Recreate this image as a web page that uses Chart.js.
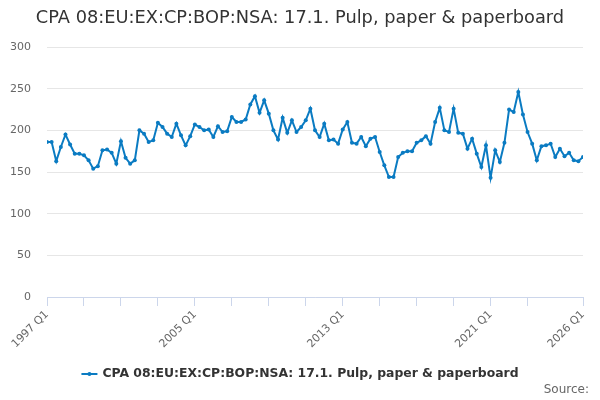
<!DOCTYPE html>
<html>
<head>
<meta charset="utf-8">
<script src="https://cdn.jsdelivr.net/npm/chart.js@4"></script>
<style>
  html, body { margin: 0; padding: 0; background: #fff; }
  #wrap { width: 600px; height: 400px; }
</style>
</head>
<body>
<div id="wrap"><canvas id="chart"></canvas></div>
<script>
// Dados trimestrais 1997 Q1 .. 2026 Q1
const firstYear = 1997;
const quarterLabels = [];
for (let y = firstYear; y <= 2026; y++) {
    for (let q = 1; q <= 4; q++) {
        if (y === 2026 && q > 1) break;
        quarterLabels.push(y + ' Q' + q);
    }
}

const seriesName = 'CPA 08:EU:EX:CP:BOP:NSA: 17.1. Pulp, paper & paperboard';

const seriesValues = [
    186, 186, 163, 180, 195, 183, 172, 172, 170, 164,
    154, 157, 176, 177, 173, 160, 187, 167, 160, 164,
    200, 196, 186, 188, 209, 204, 196, 192, 208, 194,
    182, 193, 207, 204, 200, 201, 192, 205, 198, 199,
    216, 210, 210, 213, 231, 241, 221, 236, 220, 200,
    189, 215, 197, 212, 198, 204, 212, 226, 200, 192,
    208, 188, 189, 184, 201, 210, 185, 184, 192, 181,
    190, 192, 174, 158, 144, 144, 168, 173, 175, 175,
    185, 188, 193, 184, 210, 227, 200, 198, 226, 197,
    196, 178, 190, 172, 156, 182, 143, 176, 162, 185,
    225, 222, 246, 219, 198, 184, 164, 181, 182, 184,
    168, 178, 169, 173, 164, 163, 168
];

// Rótulos visíveis no eixo x (índices dos trimestres)
const labelledTicks = [0, 32, 64, 96, 116];
const tickMarks = [0, 8, 16, 24, 32, 40, 48, 56, 64, 72, 80, 88, 96, 104, 116];
const yTicks = [0, 50, 100, 150, 200, 250, 300];

const lineColor = '#0a7bc2';
const fontFamily = '"DejaVu Sans", sans-serif';

const points = seriesValues.map((v, i) => ({ x: i, y: v }));

// Título, legenda e "Source:" desenhados à mão, centrados na largura total
const textPlugin = {
    id: 'chartTexts',
    afterDraw(chart) {
        const ctx = chart.ctx;
        ctx.save();
        ctx.textBaseline = 'middle';

        // título
        ctx.font = '17.8px ' + fontFamily;
        ctx.fillStyle = '#333333';
        ctx.textAlign = 'center';
        ctx.fillText(seriesName, 300, 18);

        // legenda
        ctx.font = 'bold 12.4px ' + fontFamily;
        const textW = ctx.measureText(seriesName).width;
        const symW = 16, gap = 5;
        const startX = 300 - (symW + gap + textW) / 2;
        const ly = 374;
        ctx.strokeStyle = lineColor;
        ctx.lineWidth = 2;
        ctx.beginPath();
        ctx.moveTo(startX, ly);
        ctx.lineTo(startX + symW, ly);
        ctx.stroke();
        ctx.fillStyle = lineColor;
        ctx.beginPath();
        ctx.arc(startX + symW / 2, ly, 2, 0, Math.PI * 2);
        ctx.fill();
        ctx.fillStyle = '#333333';
        ctx.textAlign = 'left';
        ctx.fillText(seriesName, startX + symW + gap, ly);

        // fonte
        ctx.font = '12px ' + fontFamily;
        ctx.fillStyle = '#666666';
        ctx.textAlign = 'right';
        ctx.fillText('Source:', 589, 390);
        ctx.restore();
    }
};

new Chart(document.getElementById('chart'), {
    type: 'line',
    data: {
        datasets: [{
            label: seriesName,
            data: points,
            borderColor: lineColor,
            backgroundColor: lineColor,
            borderWidth: 2,
            pointRadius: 2,
            pointHoverRadius: 3,
            pointBackgroundColor: lineColor,
            pointBorderWidth: 0,
            tension: 0
        }]
    },
    options: {
        responsive: true,
        maintainAspectRatio: false,
        animation: false,
        layout: { padding: { left: 0, right: 17, top: 47, bottom: 41 } },
        scales: {
            x: {
                type: 'linear',
                min: 0,
                max: quarterLabels.length - 1,
                afterBuildTicks(scale) {
                    scale.ticks = tickMarks.map(v => ({ value: v }));
                },
                afterFit(scale) { scale.height = 62; },
                grid: {
                    drawOnChartArea: false,
                    drawTicks: true,
                    tickLength: 9,
                    color: '#ccd6eb'
                },
                border: { color: '#ccd6eb', width: 1 },
                ticks: {
                    autoSkip: false,
                    maxRotation: 45,
                    minRotation: 45,
                    color: '#666666',
                    font: { family: fontFamily, size: 11 },
                    padding: 2,
                    callback: (v) => labelledTicks.includes(v) ? quarterLabels[v] : ''
                }
            },
            y: {
                min: 0,
                max: 300,
                afterBuildTicks(scale) {
                    scale.ticks = yTicks.map(v => ({ value: v }));
                },
                afterFit(scale) { scale.width = 47; },
                grid: { color: '#e6e6e6', drawTicks: false },
                border: { display: false },
                ticks: {
                    color: '#666666',
                    font: { family: fontFamily, size: 11 },
                    padding: 16
                }
            }
        },
        plugins: {
            title: { display: false },
            legend: { display: false },
            tooltip: { enabled: false }
        }
    },
    plugins: [textPlugin]
});
</script>
</body>
</html>
